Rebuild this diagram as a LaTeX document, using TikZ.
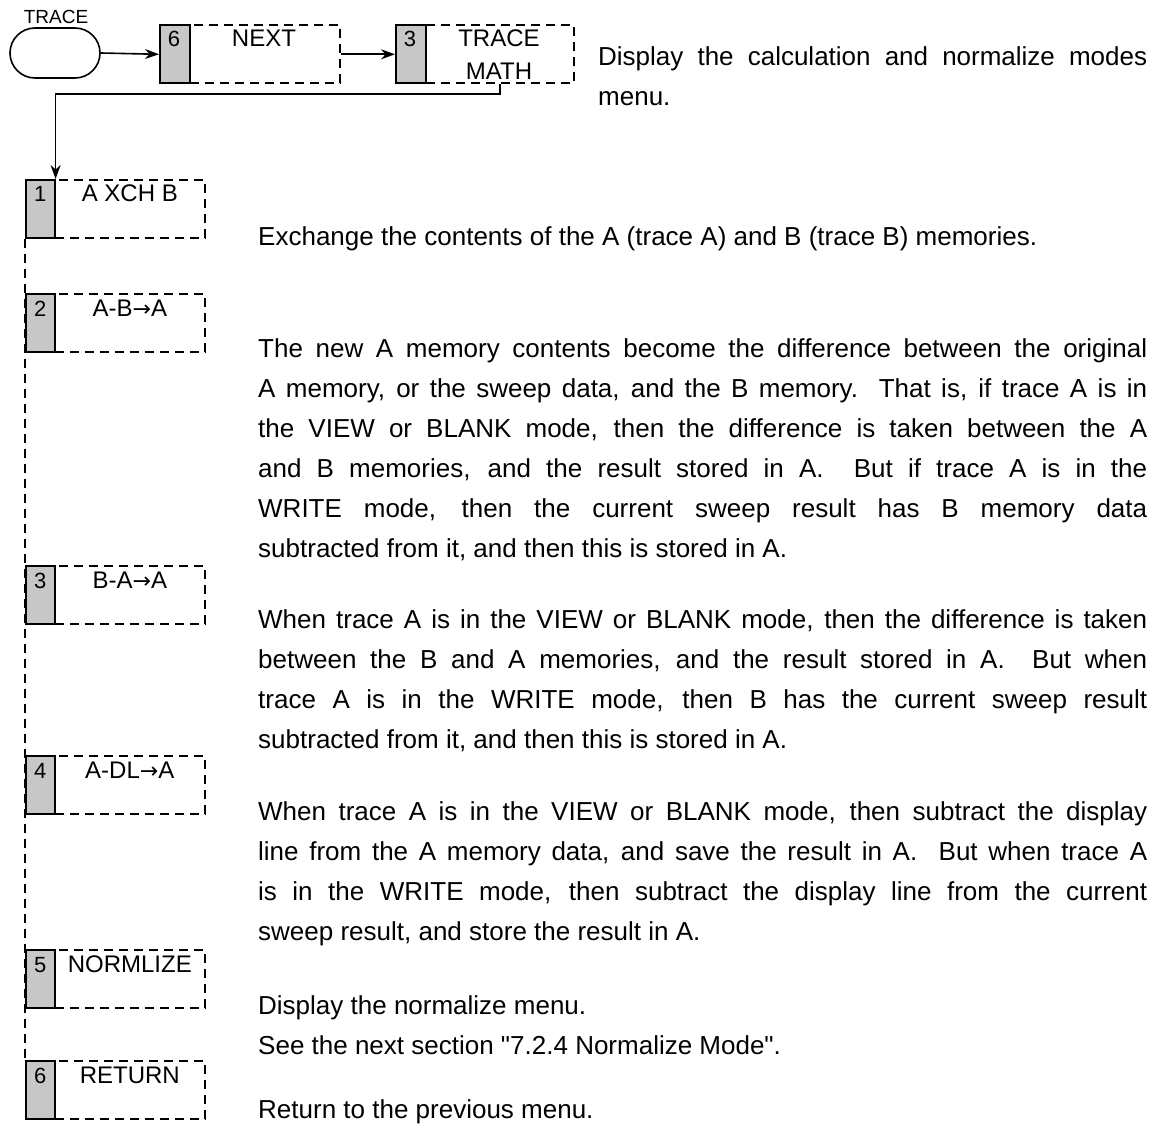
\documentclass[tikz,border=0pt]{standalone}
\usepackage{fontspec}
\setmainfont{Liberation Sans}
\newfontfamily\plainsans{Liberation Sans}
\newfontfamily\arrfont{DejaVu Sans}
\usetikzlibrary{arrows.meta}
\newcommand{\jl}[1]{\makebox[889pt][s]{#1}}
\newcommand{\jz}[1]{\makebox[549pt][s]{#1}}
\newcommand{\rarr}{{\arrfont\fontsize{22}{26}\selectfont →}}
\newcommand{\sq}{{\plainsans"}}
\begin{document}
\begin{tikzpicture}[x=1pt,y=-1pt,
  gk/.style={draw, line width=1.6pt, fill=black!22, minimum width=29pt, minimum height=58pt, anchor=north west, inner sep=0pt},
  dk/.style={draw, line width=1.6pt, dash pattern=on 9pt off 6pt, minimum width=150pt, minimum height=58pt, anchor=north west, inner sep=0pt},
  kt/.style={anchor=base, inner sep=0pt, font=\fontsize{24}{28}\selectfont},
  kn/.style={anchor=base, inner sep=0pt, font=\fontsize{22}{26}\selectfont},
  tx/.style={anchor=base west, inner sep=0pt, font=\fontsize{26}{30}\selectfont},
  arr/.style={line width=1.6pt, -{Stealth[length=14pt,width=10pt]}},
  vdash/.style={line width=1.6pt, dash pattern=on 9pt off 6pt}]
\useasboundingbox (0,0) rectangle (1163,1129);

% top row
\node[draw, line width=1.6pt, rounded corners=25pt, minimum width=90pt, minimum height=50pt, inner sep=0pt] (trace) at (55,53) {};
\node[anchor=base, inner sep=0pt, font=\fontsize{19}{22}\selectfont] (tracel) at (56,24) {TRACE};

\node[dk] (dn) at (189,24.5) {};
\node[gk, minimum width=30pt] (gn) at (159,24.5) {};
\node[kn] (nn) at (174,47) {6};
\node[kt] (tn) at (264,47) {NEXT};

\node[dk, minimum width=148pt] (dm) at (425,24.5) {};
\node[gk, minimum width=30pt] (gm) at (395,24.5) {};
\node[kn] (nm) at (410,47) {3};
\node[kt] (tm1) at (499,47) {TRACE};
\node[kt] (tm2) at (499,80) {MATH};

\draw[arr] (trace.east) -- (gn.west);
\draw[arr] (dn.east) -- (gm.west);

% menu keys
\foreach \i/\y/\lab in {1/179/A XCH B, 2/293/A-B\rarr A, 3/565/B-A\rarr A, 4/755/A-DL\rarr A, 5/949/NORMLIZE, 6/1060/RETURN}{
  \node[dk] (d\i) at (54,\y) {};
  \node[gk] (g\i) at (25,\y) {};
  \node[kn] (n\i) at ([yshift=-23pt]g\i.north) {\i};
  \node[kt] (t\i) at ([yshift=-23pt]d\i.north) {\lab};
}

\draw[arr] (dm.south) -- ++(0,10) -| (g1.north east);
\draw[vdash] (g1.south west) -- (g6.north west);

% descriptions
\node[tx] (p0a) at (598,66) {\jz{Display the calculation and normalize modes}};
\node[tx] (p0b) at (598,106) {menu.};

\node[tx] (p1a) at (258,245) {Exchange the contents of the A (trace A) and B (trace B) memories.};

\node[tx] (p2a) at (258,357) {\jl{The new A memory contents become the difference between the original}};
\node[tx] (p2b) at (258,397) {\jl{A memory, or the sweep data, and the B memory.\ \ That is, if trace A is in}};
\node[tx] (p2c) at (258,437) {\jl{the VIEW or BLANK mode, then the difference is taken between the A}};
\node[tx] (p2d) at (258,477) {\jl{and B memories, and the result stored in A.\ \ But if trace A is in the}};
\node[tx] (p2e) at (258,517) {\jl{WRITE mode, then the current sweep result has B memory data}};
\node[tx] (p2f) at (258,557) {subtracted from it, and then this is stored in A.};

\node[tx] (p3a) at (258,628) {\jl{When trace A is in the VIEW or BLANK mode, then the difference is taken}};
\node[tx] (p3b) at (258,668) {\jl{between the B and A memories, and the result stored in A.\ \ But when}};
\node[tx] (p3c) at (258,708) {\jl{trace A is in the WRITE mode, then B has the current sweep result}};
\node[tx] (p3d) at (258,748) {subtracted from it, and then this is stored in A.};

\node[tx] (p4a) at (258,820) {\jl{When trace A is in the VIEW or BLANK mode, then subtract the display}};
\node[tx] (p4b) at (258,860) {\jl{line from the A memory data, and save the result in A.\ \ But when trace A}};
\node[tx] (p4c) at (258,900) {\jl{is in the WRITE mode, then subtract the display line from the current}};
\node[tx] (p4d) at (258,940) {sweep result, and store the result in A.};

\node[tx] (p5a) at (258,1014) {Display the normalize menu.};
\node[tx] (p5b) at (258,1054) {See the next section \sq 7.2.4 Normalize Mode\sq.};

\node[tx] (p6a) at (258,1118) {Return to the previous menu.};
\end{tikzpicture}
\end{document}
